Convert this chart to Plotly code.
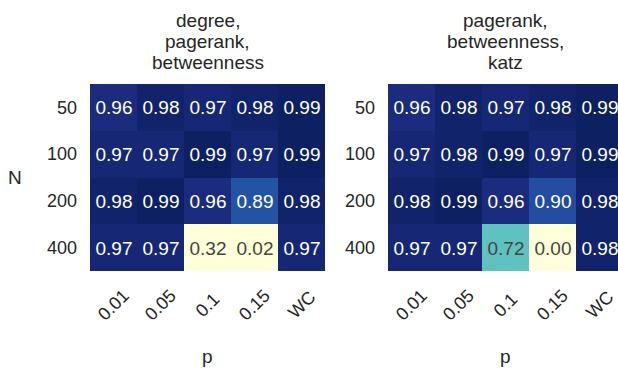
import plotly.graph_objects as go

# ---- data ----
p_labels = ["0.01", "0.05", "0.1", "0.15", "WC"]
n_labels = ["50", "100", "200", "400"]
title_left = ["degree,", "pagerank,", "betweenness"]
title_right = ["pagerank,", "betweenness,", "katz"]
z_left = [
    [0.96, 0.98, 0.97, 0.98, 0.99],
    [0.97, 0.97, 0.99, 0.97, 0.99],
    [0.98, 0.99, 0.96, 0.89, 0.98],
    [0.97, 0.97, 0.32, 0.02, 0.97],
]
z_right = [
    [0.96, 0.98, 0.97, 0.98, 0.99],
    [0.97, 0.98, 0.99, 0.97, 0.99],
    [0.98, 0.99, 0.96, 0.90, 0.98],
    [0.97, 0.97, 0.72, 0.00, 0.98],
]
x_title = "p"
y_title = "N"

# ---- style ----
W, H = 618, 371
FONT = "Liberation Sans, Arial, sans-serif"
TXT = "#262626"
ylgnbu = ['#ffffd9', '#edf8b1', '#c7e9b4', '#7fcdbb', '#41b6c4',
          '#1d91c0', '#225ea8', '#253494', '#081d58']
cscale = [[i / (len(ylgnbu) - 1), c] for i, c in enumerate(ylgnbu)]
ZMIN, ZMAX = 0.5, 1.0


def px_x(v):
    return v / W


def px_y(v):
    return 1 - v / H


fig = go.Figure()
for i, z in enumerate([z_left, z_right]):
    sfx = "" if i == 0 else "2"
    fig.add_trace(go.Heatmap(
        z=z, x=p_labels, y=n_labels, colorscale=cscale, zmin=ZMIN, zmax=ZMAX,
        showscale=False, xgap=0, ygap=0,
        texttemplate="%{z:.2f}", textfont=dict(family=FONT, size=19),
        xaxis="x" + sfx, yaxis="y" + sfx, hoverinfo="skip"))

ydom = [px_y(271), px_y(84)]
common_y = dict(type="category", domain=ydom, autorange="reversed", showgrid=False,
                zeroline=False, showline=False, ticks="", ticklabelstandoff=12,
                tickfont=dict(family=FONT, size=18, color=TXT))
common_x = dict(type="category", showgrid=False, zeroline=False, showline=False,
                ticks="", showticklabels=False)

fig.update_layout(
    width=W, height=H, margin=dict(l=0, r=0, t=0, b=0),
    paper_bgcolor="white", plot_bgcolor="white", showlegend=False,
    font=dict(family=FONT, color=TXT),
    xaxis=dict(domain=[px_x(90), px_x(325)], range=[-0.5, 4.5], **common_x),
    xaxis2=dict(domain=[px_x(388), 1.0], range=[-0.5, 4.5 - (388 + 235 - 618) / 47.0],
                anchor="y2", **common_x),
    yaxis=dict(anchor="x", **common_y),
    yaxis2=dict(anchor="x2", **common_y),
)

ann = []
# titles
for cx, lines in [(207.5, title_left), (505.5, title_right)]:
    for k, t in enumerate(lines):
        ann.append(dict(text=t, x=px_x(cx), y=px_y(20 + 21 * k), xref="paper", yref="paper",
                        xanchor="center", yanchor="middle", showarrow=False,
                        font=dict(family=FONT, size=19, color=TXT)))
# rotated x tick labels (placed at category index on each x axis)
for xr in ["x", "x2"]:
    for idx, lab in enumerate(p_labels):
        ann.append(dict(text=lab, x=idx, xref=xr, y=px_y(305), yref="paper",
                        xanchor="center", yanchor="middle", textangle=-45, showarrow=False,
                        font=dict(family=FONT, size=18, color=TXT)))
# axis titles
for cx in [207.5, 505.5]:
    ann.append(dict(text=x_title, x=px_x(cx), y=px_y(356), xref="paper", yref="paper",
                    xanchor="center", yanchor="middle", showarrow=False,
                    font=dict(family=FONT, size=19, color=TXT)))
ann.append(dict(text=y_title, x=px_x(15), y=px_y(177.5), xref="paper", yref="paper",
                xanchor="center", yanchor="middle", showarrow=False,
                font=dict(family=FONT, size=19, color=TXT)))
fig.update_layout(annotations=ann)

fig.write_html("out.html")
